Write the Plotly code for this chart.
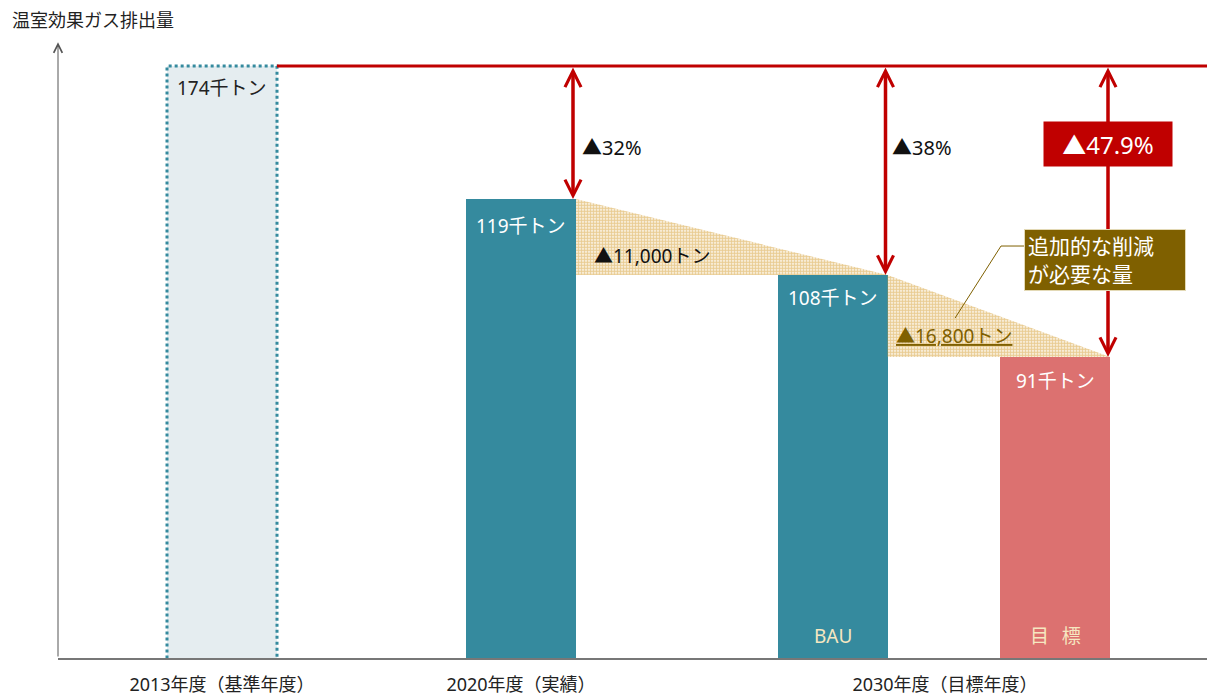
import plotly.graph_objects as go

# ---- data ----
bar_names = ["2013", "2020", "BAU", "目標"]
bar_values = [174, 119, 108, 91]            # 千トン (labels)
drawn_heights = [174, 134.9, 112.6, 88.5]   # bar heights as drawn on the axis
bar_labels = ["174千トン", "119千トン", "108千トン", "91千トン"]
bar_inner = ["", "", "BAU", "目\u2002\u2009標"]
x_tick_labels = ["2013年度（基準年度）", "2020年度（実績）", "2030年度（目標年度）"]
reduction_pct = ["▲32%", "▲38%", "▲47.9%"]
gap_labels = ["▲11,000トン", "▲16,800トン"]
callout = "追加的な削減<br>が必要な量"
y_title = "温室効果ガス排出量"

# ---- layout helpers ----
bar_x = [164, 463, 774.5, 997]
bar_w = 110
tick_x = [164, 463, 887]
label_shift = [-22, -27, -23, -24]
TEAL = "#358a9e"
RED = "#c00000"
PINK = "#dc7170"
GOLD = "#7f6000"
FONT = "Noto Sans, Noto Sans CJK JP"
base = -0.8

fig = go.Figure()

fills = ["#e5edf0", TEAL, TEAL, PINK]
fig.add_trace(go.Bar(
    x=bar_x, y=[h - base for h in drawn_heights], base=base, width=bar_w,
    marker=dict(color=fills, line=dict(width=0)), showlegend=False, hoverinfo="skip"))

right = [bx + bar_w / 2 for bx in bar_x]
left = [bx - bar_w / 2 for bx in bar_x]

# dotted triangles (gaps)
for i in (1, 2):
    fig.add_trace(go.Scatter(
        x=[right[i], right[i + 1], right[i], right[i]],
        y=[drawn_heights[i], drawn_heights[i + 1], drawn_heights[i + 1], drawn_heights[i]],
        fill="toself", mode="lines", line=dict(width=0, color="rgba(0,0,0,0)"),
        fillcolor="rgba(0,0,0,0)",
        fillpattern=dict(shape=".", fgcolor="#d49a28", bgcolor="rgba(255,255,255,0)", size=3, solidity=0.7),
        showlegend=False, hoverinfo="skip"))

shapes = []
shapes.append(dict(type="rect", xref="x", yref="y", x0=left[0], x1=right[0], y0=base, y1=drawn_heights[0],
                   line=dict(color=TEAL, width=3, dash="dot"), fillcolor="rgba(0,0,0,0)"))
shapes.append(dict(type="line", xref="x", yref="y", x0=right[0], x1=1149, y0=drawn_heights[0], y1=drawn_heights[0],
                   line=dict(color=RED, width=3)))
shapes.append(dict(type="path", xref="x", yref="y",
                   path="M 967,121.1 L 943,121.1 L 897,99.9", line=dict(color=GOLD, width=1)))

ann = []
ann.append(dict(x=-0.0418, y=1.0159, xref="paper", yref="paper", text=y_title, showarrow=False,
                xanchor="left", yanchor="middle", font=dict(family=FONT, size=18, color="#222")))
ann.append(dict(x=0, y=181.0, ax=0, ay=0, xref="x", yref="y", axref="x", ayref="y", text="",
                showarrow=True, arrowhead=5, arrowsize=1.7, arrowwidth=1, arrowcolor="#555"))

arrow_x = [right[1] - 3, right[2] - 2, right[3] - 2]
for i, xa in enumerate(arrow_x):
    ann.append(dict(x=xa, y=drawn_heights[i + 1], ax=xa, ay=drawn_heights[0], xref="x", yref="y",
                    axref="x", ayref="y", text="", showarrow=True, arrowside="end+start",
                    arrowhead=5, startarrowhead=5, arrowsize=0.9, startarrowsize=0.9,
                    arrowwidth=3.5, arrowcolor=RED))

for i in range(4):
    ann.append(dict(x=bar_x[i], y=drawn_heights[i], xref="x", yref="y", yshift=label_shift[i],
                    text=bar_labels[i], showarrow=False,
                    font=dict(family=FONT, size=19, color="#222" if i == 0 else "white")))
    if bar_inner[i]:
        ann.append(dict(x=bar_x[i], y=0, xref="x", yref="y", yshift=22, text=bar_inner[i],
                        showarrow=False, font=dict(family=FONT, size=19, color="#f6e7c1")))

ann.append(dict(x=522, y=150.2, xref="x", yref="y", text=reduction_pct[0], showarrow=False, xanchor="left",
                font=dict(family=FONT, size=20, color="#111")))
ann.append(dict(x=832, y=150.2, xref="x", yref="y", text=reduction_pct[1], showarrow=False, xanchor="left",
                font=dict(family=FONT, size=20, color="#111")))
ann.append(dict(x=1050, y=151.1, xref="x", yref="y", text=reduction_pct[2], showarrow=False,
                bgcolor=RED, borderpad=5, width=118, height=34, font=dict(family=FONT, size=24, color="white")))

ann.append(dict(x=534, y=118.2, xref="x", yref="y", text=gap_labels[0], showarrow=False, xanchor="left",
                font=dict(family=FONT, size=19, color="#111")))
ann.append(dict(x=836, y=94.6, xref="x", yref="y", text="<u>" + gap_labels[1] + "</u>", showarrow=False,
                xanchor="left", font=dict(family=FONT, size=19, color=GOLD)))

ann.append(dict(x=1047, y=117.0, xref="x", yref="y", text=callout, showarrow=False, align="left",
                bgcolor=GOLD, bordercolor="#e3d9b5", borderwidth=1, borderpad=3, width=154, height=54,
                font=dict(family=FONT, size=21, color="white")))

fig.update_layout(
    width=1207, height=697,
    margin=dict(l=58, r=0, t=30, b=39),
    paper_bgcolor="white", plot_bgcolor="white",
    shapes=shapes, annotations=ann,
    bargap=0,
    xaxis=dict(range=[0, 1149], showgrid=False, zeroline=False, showline=True, linecolor="#777",
               linewidth=2, tickvals=tick_x, ticktext=x_tick_labels, ticks="", ticklabelstandoff=9,
               tickfont=dict(family=FONT, size=18, color="#222"), layer="below traces", fixedrange=True),
    yaxis=dict(range=[0, 184.6], showgrid=False, zeroline=False, showline=False, showticklabels=False,
               fixedrange=True),
)

fig.write_html("out.html", post_script="document.body.style.margin='0';document.body.style.overflow='hidden';",
               config={"displayModeBar": False})
